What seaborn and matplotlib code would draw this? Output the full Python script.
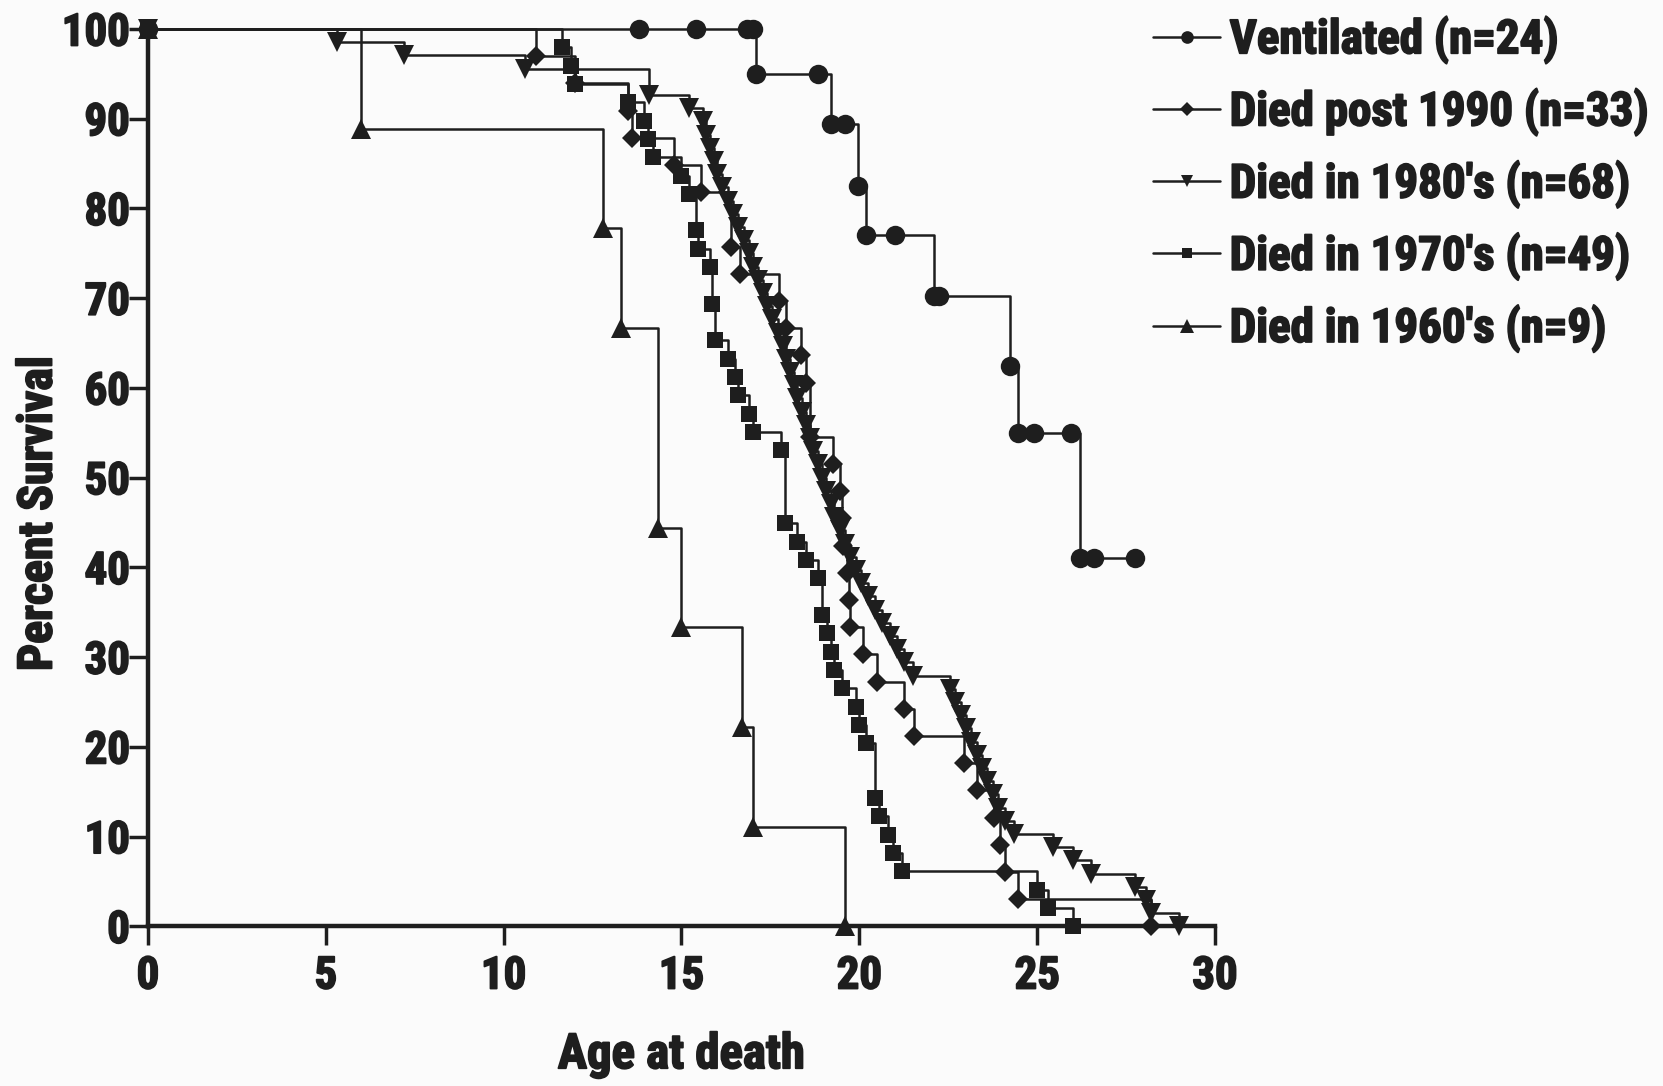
import numpy as np
import pandas as pd
import matplotlib
matplotlib.use('Agg')
import matplotlib.pyplot as plt
import seaborn as sns
from matplotlib import font_manager as fm
from matplotlib import patheffects as pe
from matplotlib.textpath import TextToPath

# ages at death, one entry per death (each is one step down)
ages_1960s = [6.0, 12.8, 13.3, 14.35, 14.35, 15.0, 16.7, 17.0, 19.6]

ages_1970s = [11.65, 11.9, 12.0, 13.5, 13.95, 14.05, 14.2, 15.0, 15.2, 15.4,
              15.4, 15.45, 15.8, 15.85, 15.85, 15.95, 15.95, 16.3, 16.5, 16.6,
              16.9, 17.0, 17.8, 17.9, 17.9, 17.9, 17.9, 18.25, 18.5, 18.85,
              18.95, 18.95, 19.1, 19.2, 19.3, 19.5, 19.9, 20.0, 20.2, 20.45,
              20.45, 20.45, 20.55, 20.8, 20.95, 21.2, 25.0, 25.3, 26.0]

ages_1980s = [5.3, 7.2, 10.6, 14.1, 14.1, 15.2, 15.6, 15.7, 15.8, 15.9,
              16.0, 16.15, 16.3, 16.45, 16.6, 16.75, 16.9, 17.0, 17.15, 17.3,
              17.4, 17.55, 17.7, 17.85, 17.95, 18.05, 18.15, 18.25, 18.4, 18.5,
              18.6, 18.7, 18.85, 18.95, 19.05, 19.2, 19.3, 19.45, 19.6, 19.75,
              19.9, 20.05, 20.25, 20.45, 20.65, 20.85, 21.05, 21.25, 21.5, 22.55,
              22.7, 22.85, 23.0, 23.15, 23.3, 23.45, 23.6, 23.75, 23.9, 24.1,
              24.35, 25.45, 26.0, 26.5, 27.75, 28.05, 28.2, 29.0]

ages_post1990 = [10.9, 12.0, 13.5, 13.6, 14.8, 15.55, 16.4, 16.4, 16.65, 17.75,
                 17.95, 18.35, 18.5, 18.6, 18.6, 19.25, 19.45, 19.5, 19.55, 19.65,
                 19.7, 19.75, 20.1, 20.5, 21.25, 21.55, 22.95, 23.3, 23.8, 23.95,
                 24.1, 24.45, 28.2]

# ventilated group has censored patients, so read the steps directly
vent_age = [0, 13.8, 15.4, 16.85, 17.0, 17.1, 18.85, 19.2, 19.6, 19.95,
            20.2, 21.0, 22.1, 22.25, 24.25, 24.45, 24.9, 25.95, 26.2, 26.6, 27.75]
vent_surv = [100, 100, 100, 100, 100, 95.0, 95.0, 89.4, 89.4, 82.5,
             77.0, 77.0, 70.3, 70.3, 62.5, 55.0, 55.0, 55.0, 41.0, 41.0, 41.0]

labels = ["Ventilated (n=24)", "Died post 1990 (n=33)", "Died in 1980's (n=68)",
          "Died in 1970's (n=49)", "Died in 1960's (n=9)"]
markers = ['o', 'D', 'v', 's', '^']
msizes = [14, 10.5, 14, 12, 15]


def km_steps(ages):
    n = len(ages)
    t, s = [0.0], [100.0]
    dead = 0
    for a in sorted(set(ages)):
        dead += ages.count(a)
        t.append(a)
        s.append(100.0 * (n - dead) / n)
    return t, s


curves = [(vent_age, vent_surv), km_steps(ages_post1990), km_steps(ages_1980s),
          km_steps(ages_1970s), km_steps(ages_1960s)]

rows = []
for lab, (t, s) in zip(labels, curves):
    for a, v in zip(t, s):
        rows.append((lab, a, v))
df = pd.DataFrame(rows, columns=['group', 'age', 'surv'])

# the original lettering is a heavy, narrow sans: use a condensed bold face if there is one
fonts = fm.fontManager.ttflist
pick = None
for fam in ['Liberation Sans Narrow', 'Arial Narrow', 'Roboto Condensed', 'Noto Sans',
            'Open Sans', 'Roboto', 'DejaVu Sans']:
    for f in fonts:
        if fam in f.name and 'condensed' in str(f.stretch) and f.weight in (700, 'bold'):
            pick = f.fname
            break
    if pick:
        break
if pick:
    base_fp = fm.FontProperties(fname=pick)
else:
    base_fp = fm.FontProperties(family='Liberation Sans', weight='bold')

ttp = TextToPath()


def fit_fp(text, width_px, cap_px):
    fp = base_fp.copy()
    fp.set_size(100)
    w, _, _ = ttp.get_text_width_height_descent(text, fp, ismath=False)
    _, hc, _ = ttp.get_text_width_height_descent('H', fp, ismath=False)
    size = min(100 * width_px * 0.72 / w, 100 * cap_px * 0.72 / hc)
    fp.set_size(size)
    return fp


tick_fp = fit_fp('100', 68, 34)
xlab_fp = fit_fp('Age at death', 247, 37)
ylab_fp = fit_fp('Percent Survival', 315, 37)
leg_fp = fit_fp('Died post 1990 (n=33)', 419, 36)

sns.set_style('ticks')
plt.rcParams['font.family'] = ['Liberation Sans', 'DejaVu Sans']

col = '#1e1e1e'
heavy = [pe.withStroke(linewidth=1.3, foreground=col)]

fig = plt.figure(figsize=(16.63, 10.86), dpi=100)
fig.patch.set_facecolor('#fbfbfb')
ax = fig.add_axes([0.089, 0.147, 0.6416, 0.8263])
ax.set_facecolor('#fbfbfb')

for lab, mk, ms in zip(labels, markers, msizes):
    sns.lineplot(data=df[df.group == lab], x='age', y='surv', ax=ax,
                 estimator=None, sort=False, drawstyle='steps-post',
                 color=col, lw=1.8, marker=mk, ms=ms, mew=0, mfc=col,
                 clip_on=False, label=lab, zorder=3)

ax.set_xlim(0, 30)
ax.set_ylim(0, 100)
ax.set_xticks(range(0, 31, 5))
ax.set_yticks(range(0, 101, 10))
sns.despine(ax=ax)
for sp in ['left', 'bottom']:
    ax.spines[sp].set_linewidth(3.2)
    ax.spines[sp].set_color(col)
ax.tick_params(axis='x', length=14, width=2.5, pad=7, colors=col)
ax.tick_params(axis='y', length=14, width=2.5, pad=-1, colors=col)
for lbl in ax.get_xticklabels() + ax.get_yticklabels():
    lbl.set_fontproperties(tick_fp)
    lbl.set_path_effects(heavy)

ax.set_xlabel('Age at death', fontproperties=xlab_fp, color=col, path_effects=heavy)
ax.set_ylabel('Percent Survival', fontproperties=ylab_fp, color=col, path_effects=heavy)
ax.xaxis.set_label_coords(0.5, -0.118)
ax.yaxis.set_label_coords(-0.081, 0.46)

# legend rows ~71 px apart, first row centred ~39 px below the top edge
_, h_lp, _ = ttp.get_text_width_height_descent('lp', leg_fp, ismath=False)
row_pt = 70 * 0.72
spacing = max((row_pt - h_lp) / leg_fp.get_size(), 0.05)
top = 1 - (39 * 0.72 - h_lp / 2) / (10.86 * 72)

handles, _ = ax.get_legend_handles_labels()
leg = ax.legend(handles, labels, loc='upper left', bbox_to_anchor=(0.6935, top),
                bbox_transform=fig.transFigure, frameon=False, prop=leg_fp,
                handlelength=67 * 0.72 / leg_fp.get_size(), handletextpad=0.2,
                labelspacing=spacing, markerscale=0.65, borderpad=0, borderaxespad=0)
for t in leg.get_texts():
    t.set_color(col)
    t.set_path_effects(heavy)

fig.savefig('out.png', dpi=100, facecolor=fig.get_facecolor())
